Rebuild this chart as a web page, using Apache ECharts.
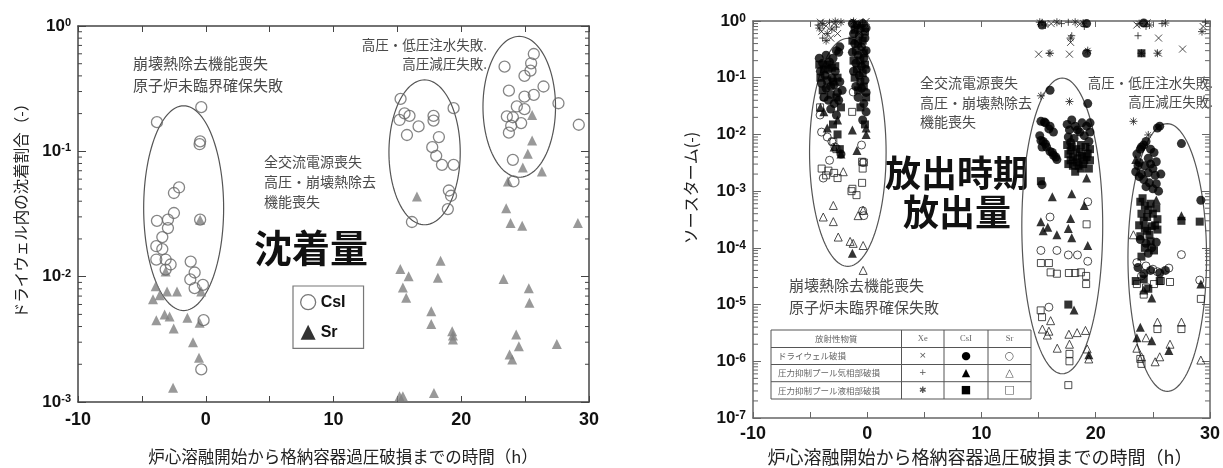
<!DOCTYPE html>
<html>
<head>
<meta charset="utf-8">
<script src="https://cdn.jsdelivr.net/npm/echarts@6/dist/echarts.min.js"></script>
<style>
html, body { margin: 0; background: #fff; }
#main { width: 1223px; height: 468px; }
</style>
</head>
<body>
<div id="main"></div>
<script>
// 左図: ドライウェル内の沈着割合 [時間(h), 割合]
var csiDep = [
    [-3.82, 0.171], [-0.35, 0.225], [-0.44, 0.12], [-0.48, 0.114], [-2.09, 0.0515], [-2.49, 0.0465],
    [-2.49, 0.0322], [-3.82, 0.0279], [-2.96, 0.0285], [-0.44, 0.0285], [-2.96, 0.0244], [-3.4, 0.0207],
    [-3.87, 0.0175], [-3.4, 0.0166], [-3.87, 0.0137], [-3.14, 0.0137], [-2.75, 0.0125], [-3.14, 0.0114],
    [-1.18, 0.0132], [-1.21, 0.0095], [-0.87, 0.0108], [-0.87, 0.0081], [-0.22, 0.0086], [-0.17, 0.0045],
    [-0.35, 0.00182],
    [15.25, 0.262], [15.17, 0.178], [15.56, 0.201], [15.95, 0.192], [16.66, 0.158], [15.75, 0.135],
    [17.83, 0.192], [17.83, 0.176], [19.4, 0.221], [18.25, 0.13], [17.73, 0.108], [18.04, 0.092],
    [18.49, 0.078], [19.4, 0.078], [19.03, 0.0487], [19.2, 0.0442], [18.95, 0.0346], [16.14, 0.0273],
    [23.39, 0.474], [25.68, 0.598], [25.47, 0.504], [25.42, 0.44], [24.95, 0.40], [26.44, 0.329],
    [23.73, 0.305], [25.68, 0.282], [24.95, 0.273], [27.61, 0.242], [24.35, 0.228], [24.95, 0.217],
    [23.57, 0.19], [24.04, 0.187], [24.69, 0.168], [23.91, 0.16], [23.73, 0.141], [29.2, 0.163],
    [24.04, 0.0855], [24.09, 0.0575]
];
var srDep = [
    [-3.92, 0.0084], [-4.13, 0.0066], [-3.61, 0.0071], [-3.03, 0.0076], [-2.25, 0.0076], [-3.87, 0.0045],
    [-3.22, 0.005], [-2.83, 0.0048], [-2.51, 0.00385], [-1.44, 0.0047], [-1.0, 0.003], [-0.53, 0.00225],
    [-0.48, 0.00428], [-0.35, 0.0076], [-2.56, 0.0013], [-3.14, 0.011], [-0.44, 0.0285],
    [15.23, 0.0115], [15.88, 0.0101], [15.43, 0.0082], [15.69, 0.0068], [18.38, 0.0134], [18.17, 0.0098],
    [17.65, 0.0053], [17.65, 0.0042], [19.29, 0.00367], [19.35, 0.00339], [19.35, 0.00315], [15.17, 0.00111],
    [15.43, 0.00111], [17.86, 0.00118], [16.53, 0.0437],
    [25.55, 0.195], [25.55, 0.122], [25.21, 0.0955], [24.82, 0.0743], [26.31, 0.069], [23.65, 0.0575],
    [23.52, 0.0352], [23.86, 0.0268], [24.77, 0.0255], [29.13, 0.0268], [23.31, 0.0096], [25.29, 0.0081],
    [25.34, 0.0062], [24.3, 0.00345], [24.51, 0.00279], [23.78, 0.00239], [23.99, 0.00218], [27.48, 0.0029]
];
// 楕円 [中心x, 中心y, x半径(h), y半径(桁)]
var depEllipses = [[-1.73, 0.0352, 3.13, 0.817], [17.13, 0.0982, 2.79, 0.578], [24.54, 0.2265, 2.84, 0.562]];

// 右図: ソースターム [時間(h), 値]
var xeDw = [
    [-4.1, 0.95], [-3.6, 0.82], [-2.9, 0.9], [-2.6, 0.6], [-1.0, 0.92], [-0.3, 0.7], [-0.1, 0.98],
    [-4.0, 0.65], [-3.2, 0.5], [-0.7, 0.6],
    [15.0, 0.26], [16.1, 0.9], [17.7, 0.26], [17.8, 0.42], [18.6, 0.88], [23.6, 0.85], [24.5, 0.93],
    [25.5, 0.5], [25.5, 0.27], [27.6, 0.32], [29.4, 0.8]
];
var xeGas = [
    [-4.3, 0.85], [-3.3, 0.95], [-2.7, 0.78], [-0.8, 0.85], [-0.4, 0.95], [-3.9, 0.5], [15.3, 0.95],
    [17.0, 0.9], [17.9, 0.55], [19.0, 0.8], [15.9, 0.27], [17.6, 0.95], [24.4, 0.8], [25.8, 0.9],
    [23.7, 0.55], [29.6, 0.95]
];
var xeLiq = [
    [-3.9, 0.9], [-3.1, 0.72], [-2.3, 0.95], [-1.2, 0.98], [-0.6, 0.8], [-3.5, 0.6], [-4.2, 0.75],
    [-2.8, 0.98], [-3.6, 0.45], [-1.1, 0.75],
    [15.1, 0.95], [15.6, 0.85], [16.0, 0.27], [17.8, 0.5], [18.9, 0.92], [19.3, 0.3],
    [15.2, 0.048], [17.7, 0.038], [23.3, 0.017], [24.0, 0.27], [25.4, 0.27], [23.8, 0.9], [24.7, 0.85],
    [26.1, 0.92], [29.3, 0.65], [24.6, 0.0098], [16.6, 0.95], [18.2, 0.95]
];
var csiDw = [
    [-4.2, 0.22], [-3.9, 0.18], [-3.6, 0.25], [-3.3, 0.19], [-3.0, 0.22], [-2.7, 0.3], [-2.4, 0.35],
    [-2.5, 0.28], [-4.1, 0.13], [-3.7, 0.11], [-3.4, 0.14], [-3.1, 0.1], [-2.8, 0.13], [-2.4, 0.085],
    [-4.0, 0.08], [-3.6, 0.065], [-3.2, 0.07], [-2.9, 0.075], [-2.6, 0.055], [-2.2, 0.06], [-3.8, 0.045],
    [-3.4, 0.04], [-2.9, 0.035], [-2.5, 0.04], [-3.2, 0.028], [-2.7, 0.022], [-2.3, 0.0045],
    [-1.3, 0.9], [-0.9, 0.85], [-0.4, 0.9], [-0.1, 0.75], [-1.2, 0.6], [-0.7, 0.55], [-0.2, 0.5],
    [-1.1, 0.4], [-0.5, 0.35], [-0.1, 0.3], [-1.3, 0.28], [-0.8, 0.25], [-0.3, 0.22], [-1.0, 0.18],
    [-0.5, 0.16], [-0.1, 0.14], [-1.2, 0.13], [-0.7, 0.11], [-0.2, 0.09], [-1.0, 0.07], [-0.5, 0.065],
    [-0.1, 0.055], [-0.8, 0.045], [-0.3, 0.035], [-0.1, 0.025], [-0.4, 0.018],
    [15.2, 0.017], [15.6, 0.016], [16.0, 0.014], [16.3, 0.011], [15.1, 0.0095], [15.4, 0.0075],
    [15.7, 0.006], [16.0, 0.005], [16.3, 0.0043], [16.6, 0.0036], [15.3, 0.006], [17.5, 0.015],
    [17.9, 0.018], [18.4, 0.012], [18.8, 0.016], [19.2, 0.014], [19.5, 0.011], [17.6, 0.009],
    [18.1, 0.0085], [19.4, 0.0075], [16.0, 0.06], [19.3, 0.035], [19.2, 0.27], [15.3, 0.0013],
    [15.5, 0.0165], [15.9, 0.0125], [15.2, 0.0078], [15.6, 0.0068], [16.2, 0.0048], [16.5, 0.004],
    [17.7, 0.012], [18.2, 0.014], [18.6, 0.011], [19.0, 0.0095], [17.8, 0.0072], [19.5, 0.016],
    [19.2, 0.9], [15.3, 0.85],
    [25.4, 0.013], [25.6, 0.014], [27.5, 0.0069], [24.0, 0.006], [24.4, 0.0075], [24.8, 0.0055],
    [23.6, 0.0045], [25.1, 0.0048], [23.8, 0.0032], [24.3, 0.0028], [24.8, 0.003], [25.3, 0.0033],
    [23.5, 0.0022], [24.0, 0.002], [24.6, 0.0021], [25.2, 0.0019], [25.7, 0.002], [24.4, 0.0012],
    [25.0, 0.0011], [25.5, 0.001], [29.2, 0.00069], [23.9, 0.00014], [24.4, 0.00012], [24.9, 0.0001],
    [25.3, 0.000125], [24.6, 0.00008], [23.7, 0.000045], [24.2, 0.000035], [24.8, 0.00004],
    [25.6, 0.000036], [26.1, 0.00004], [24.2, 0.92],
    [24.2, 0.0065], [23.9, 0.0055], [24.6, 0.0038], [23.7, 0.0028], [25.0, 0.0025], [24.2, 0.0016],
    [24.7, 0.0014], [23.8, 0.0018], [25.3, 0.00135]
];
var csiGas = [
    [-3.5, 0.013], [-2.6, 0.018], [-4.1, 0.03], [-2.3, 0.0045], [-0.9, 0.0052], [-0.1, 0.01],
    [-0.1, 0.013], [-1.3, 0.012], [-1.3, 0.00008], [-2.9, 0.006], [-3.8, 0.025],
    [16.2, 0.0008], [17.9, 0.0009], [19.2, 0.0017], [15.2, 0.00029], [15.8, 0.00023], [16.6, 0.00017],
    [17.8, 0.00033], [17.6, 0.00022], [17.9, 0.00015], [19.3, 0.00011], [19.0, 0.00056], [15.4, 0.0002],
    [18.1, 0.000008], [19.4, 0.0000013],
    [27.5, 0.00037], [24.9, 0.000013], [23.9, 0.000004], [23.6, 0.0000026], [24.9, 0.0000023],
    [26.4, 0.00000155], [29.2, 0.000023], [25.3, 0.0007], [23.5, 0.0036], [24.2, 0.000018]
];
var csiLiq = [
    [-4.2, 0.17], [-3.8, 0.14], [-3.5, 0.17], [-3.1, 0.15], [-2.8, 0.16], [-4.1, 0.1], [-3.5, 0.09],
    [-3.0, 0.085], [-2.6, 0.1], [-3.9, 0.06], [-3.2, 0.05], [-2.7, 0.045], [-2.3, 0.03], [-3.0, 0.015],
    [-2.6, 0.01], [-2.4, 0.0055],
    [-1.1, 0.7], [-0.6, 0.75], [-0.2, 0.65], [-1.3, 0.45], [-0.8, 0.4], [-0.4, 0.45], [-1.0, 0.3],
    [-0.3, 0.27], [-1.2, 0.2], [-0.6, 0.2], [-0.2, 0.17], [-0.9, 0.14], [-0.4, 0.12], [-1.1, 0.1],
    [-0.6, 0.085], [-0.3, 0.07], [-0.8, 0.06], [-0.1, 0.045], [-0.6, 0.03], [-0.2, 0.015],
    [17.5, 0.0065], [17.9, 0.006], [18.3, 0.0055], [18.7, 0.0065], [19.1, 0.006], [19.5, 0.0055],
    [17.6, 0.0045], [18.0, 0.004], [18.4, 0.0038], [18.8, 0.0042], [19.2, 0.004], [19.5, 0.0035],
    [17.6, 0.003], [18.0, 0.0028], [18.5, 0.0028], [18.9, 0.003], [19.4, 0.0025], [18.2, 0.0022],
    [17.8, 0.0052], [18.6, 0.0048], [19.0, 0.0035], [17.8, 0.0035], [18.3, 0.0032], [19.3, 0.0046],
    [18.7, 0.0025], [15.2, 0.0015], [17.6, 0.00001],
    [23.9, 0.00065], [24.3, 0.00055], [24.8, 0.0006], [25.3, 0.0005], [24.0, 0.0004], [24.5, 0.00035],
    [25.0, 0.0004], [25.4, 0.00032], [23.8, 0.00025], [24.3, 0.00022], [24.9, 0.00024], [25.4, 0.00021],
    [24.7, 0.00017], [27.5, 0.0003], [29.1, 0.00029], [24.0, 0.27], [25.6, 0.000026], [24.2, 0.000028],
    [23.5, 0.000026], [24.6, 0.000019],
    [24.1, 0.00075], [24.6, 0.00047], [24.2, 0.0003], [25.2, 0.00025], [24.5, 0.0002], [23.9, 0.00016],
    [24.3, 0.0001], [24.8, 0.00013], [25.1, 0.00009], [24.0, 0.00007]
];
var srDw = [
    [-1.23, 0.056], [-4.0, 0.011], [-3.5, 0.009], [-3.1, 0.0075], [-2.83, 0.006], [-0.5, 0.0065],
    [-0.36, 0.0032], [-3.85, 0.0017], [-4.13, 0.022], [-3.3, 0.0035], [-0.4, 0.00045], [-0.3, 0.00037],
    [16.0, 0.00035], [19.3, 0.00065], [15.2, 0.00009], [16.6, 0.00009], [17.6, 0.000075],
    [18.4, 0.000075], [19.3, 0.000058], [15.9, 0.000009],
    [27.5, 0.000076], [26.4, 0.000044], [29.1, 0.000027], [23.6, 0.000055], [24.4, 0.000048],
    [25.0, 0.000042], [24.0, 0.000032], [25.4, 0.000038]
];
var srGas = [
    [-2.1, 0.0022], [-2.97, 0.00056], [-3.85, 0.00035], [-2.97, 0.00029], [-0.36, 0.00046], [-0.8, 0.00037],
    [-2.54, 0.000155], [-1.23, 0.00012], [-0.36, 0.00011], [-0.36, 0.00004], [-1.5, 0.00013],
    [16.05, 0.0000052], [15.33, 0.0000037], [15.9, 0.0000034], [15.76, 0.0000029], [17.65, 0.000003],
    [18.37, 0.0000032], [19.1, 0.0000035], [16.63, 0.0000017], [17.7, 0.000002], [19.25, 0.00000165],
    [19.39, 0.0000011],
    [23.3, 0.00017], [25.4, 0.0000049], [27.5, 0.0000049], [24.4, 0.0000026], [23.6, 0.0000017],
    [24.0, 0.0000012], [25.2, 0.00000098], [25.6, 0.0000012], [29.2, 0.00000105], [26.5, 0.000002]
];
var srLiq = [
    [-3.76, 0.046], [-4.13, 0.03], [-1.32, 0.025], [-2.97, 0.0074], [-2.7, 0.0055], [-0.45, 0.0033],
    [-0.4, 0.0025], [-0.45, 0.0014], [-3.99, 0.0025], [-3.4, 0.0023], [-2.9, 0.0021], [-3.6, 0.0019],
    [-2.6, 0.0017], [-1.38, 0.001], [-0.94, 0.00085], [-1.3, 0.0011], [-0.3, 0.0032],
    [15.2, 0.000054], [15.9, 0.000054], [16.05, 0.000037], [16.6, 0.000035], [17.65, 0.000036],
    [18.2, 0.000036], [18.7, 0.000037], [19.16, 0.000032], [19.16, 0.000023], [15.18, 0.0000079],
    [15.3, 0.000006], [17.7, 0.00000135], [17.7, 0.000001], [17.6, 0.00000038], [19.2, 0.00026],
    [26.5, 0.000025], [29.2, 0.0000126], [25.4, 0.0000037], [27.5, 0.0000037], [24.0, 0.0000009],
    [23.6, 0.000023], [24.4, 0.00002], [25.1, 0.000023], [24.2, 0.000015], [25.7, 0.000026], [23.9, 0.0000011]
];
var relEllipses = [[-1.7, 0.00483, 3.35, 2.01], [17.07, 0.000244, 3.54, 2.607], [26.26, 0.0000676, 3.44, 2.36]];

var tableHead = ['放射性物質', 'Xe', 'CsI', 'Sr'];
var tableRows = ['ドライウェル破損', '圧力抑制プール気相部破損', '圧力抑制プール液相部破損'];
var tableMarks = [['×', '●', '○'], ['+', '▲', '△'], ['✱', '■', '□']];

var cjk = '"Noto Sans CJK JP", sans-serif';
var num = '"Liberation Sans", Arial, sans-serif';

var chart = echarts.init(document.getElementById('main'));

function minorTicks(lo, hi) {
    var out = [];
    for (var e = lo; e < hi; e++) {
        for (var m = 2; m <= 9; m++) out.push([-10, m * Math.pow(10, e)]);
    }
    return out;
}

function tickItem(len, color) {
    return function(params, api) {
        var l = api.coord([-10, api.value(1)]);
        var r = api.coord([30, api.value(1)]);
        return {
            type: 'group', children: [
                { type: 'line', shape: { x1: l[0], y1: l[1], x2: l[0] + len, y2: l[1] }, style: { stroke: color, lineWidth: 1 } },
                { type: 'line', shape: { x1: r[0], y1: r[1], x2: r[0] - len, y2: r[1] }, style: { stroke: color, lineWidth: 1 } }
            ]
        };
    };
}

function ellipseItem(params, api) {
    var c = api.coord([api.value(0), api.value(1)]);
    var px = api.coord([api.value(0) + api.value(2), api.value(1)]);
    var py = api.coord([api.value(0), api.value(1) * Math.pow(10, api.value(3))]);
    var rx = px[0] - c[0], ry = c[1] - py[1];
    var pts = [];
    for (var i = 0; i < 120; i++) {
        var a = i / 120 * Math.PI * 2;
        pts.push([c[0] + rx * Math.cos(a), c[1] + ry * Math.sin(a)]);
    }
    return { type: 'polygon', shape: { points: pts }, style: { fill: 'none', stroke: '#555', lineWidth: 1.2 } };
}

function expLabel(v) {
    return '{b|10}{s|' + Math.round(Math.log10(v)) + '}';
}

function xAxisOf(grid, pos, margin, color) {
    return {
        gridIndex: grid, type: 'value', min: -10, max: 30, interval: 5, position: pos,
        axisLine: { onZero: false, lineStyle: { color: color, width: 1.5 } },
        axisTick: { inside: true, length: 6, lineStyle: { color: color } },
        splitLine: { show: false },
        axisLabel: {
            show: pos === 'bottom', margin: margin, fontSize: 18, fontWeight: 'bold', color: '#111', fontFamily: num,
            formatter: function(v) { return v % 10 === 0 ? String(v) : ''; }
        }
    };
}

function yAxisOf(grid, pos, min, color, sup) {
    return {
        gridIndex: grid, type: 'log', logBase: 10, min: min, max: 1, position: pos,
        splitNumber: Math.round(-Math.log10(min)),
        axisLine: { onZero: false, lineStyle: { color: color, width: 1.5 } },
        axisTick: { inside: true, length: 8, lineStyle: { color: color } },
        splitLine: { show: false },
        axisLabel: {
            show: pos === 'left', margin: 7, formatter: expLabel,
            rich: {
                b: { fontSize: 17, fontWeight: 'bold', color: '#111', fontFamily: num },
                s: { fontSize: sup, fontWeight: 'bold', color: '#111', fontFamily: num, verticalAlign: 'top' }
            }
        }
    };
}

var xeLine = { color: 'rgba(0,0,0,0)', borderColor: '#222', borderWidth: 1 };
var openLine = { color: 'rgba(0,0,0,0)', borderColor: '#222', borderWidth: 1 };

function rightSeries(name, data, symbol, size, style) {
    return { type: 'scatter', name: name, xAxisIndex: 2, yAxisIndex: 2, data: data, symbol: symbol, symbolSize: size, itemStyle: style, silent: true };
}

// 右図の表
var colX = [771, 901.5, 944, 988, 1031];
var rowY = [330, 347.5, 364.5, 381.7, 399];
var tableEls = [{ type: 'rect', shape: { x: colX[0], y: rowY[0], width: colX[4] - colX[0], height: rowY[4] - rowY[0] }, style: { fill: '#fff', stroke: '#555', lineWidth: 1 } }];
colX.slice(1, 4).forEach(function(x) {
    tableEls.push({ type: 'line', shape: { x1: x, y1: rowY[0], x2: x, y2: rowY[4] }, style: { stroke: '#555', lineWidth: 1 } });
});
rowY.slice(1, 4).forEach(function(y) {
    tableEls.push({ type: 'line', shape: { x1: colX[0], y1: y, x2: colX[4], y2: y }, style: { stroke: '#555', lineWidth: 1 } });
});
tableHead.forEach(function(t, i) {
    tableEls.push({ type: 'text', x: (colX[i] + colX[i + 1]) / 2, y: (rowY[0] + rowY[1]) / 2,
        style: { text: t, fontSize: 8.5, fill: '#666', fontFamily: i ? '"Liberation Serif", serif' : cjk, align: 'center', verticalAlign: 'middle' } });
});
tableRows.forEach(function(t, r) {
    var cy = (rowY[r + 1] + rowY[r + 2]) / 2;
    tableEls.push({ type: 'text', x: colX[0] + 7, y: cy, style: { text: t, fontSize: 8.5, fill: '#666', fontFamily: cjk, verticalAlign: 'middle' } });
    tableMarks[r].forEach(function(m, c) {
        tableEls.push({ type: 'text', x: (colX[c + 1] + colX[c + 2]) / 2, y: cy,
            style: { text: m, fontSize: c === 0 ? 9 : 11, fill: c === 1 ? '#000' : '#555', fontFamily: '"DejaVu Sans", sans-serif', align: 'center', verticalAlign: 'middle' } });
    });
});

function note(x, y, text, size, lh, align) {
    return { type: 'text', x: x, y: y, style: { text: text, fontSize: size, lineHeight: lh, fill: '#4a4a4a', fontFamily: cjk, align: align || 'left', verticalAlign: 'top' } };
}

var option = {
    animation: false,
    backgroundColor: '#fff',
    grid: [
        { left: 78, top: 26, width: 511, height: 376 },
        { left: 753, top: 21, width: 459, height: 397 }
    ],
    xAxis: [
        xAxisOf(0, 'bottom', 9, '#444'), xAxisOf(0, 'top', 9, '#444'),
        xAxisOf(1, 'bottom', 7, '#666'), xAxisOf(1, 'top', 7, '#666')
    ],
    yAxis: [
        yAxisOf(0, 'left', 0.001, '#444', 11), yAxisOf(0, 'right', 0.001, '#444', 11),
        yAxisOf(1, 'left', 1e-7, '#666', 12), yAxisOf(1, 'right', 1e-7, '#666', 12)
    ],
    legend: {
        data: [
            { name: 'CsI', icon: 'circle', itemStyle: { color: 'rgba(0,0,0,0)', borderColor: '#555', borderWidth: 1.3 } },
            { name: 'Sr', icon: 'triangle', itemStyle: { color: '#000' } }
        ],
        left: 293, top: 286, orient: 'vertical', itemGap: 14, itemWidth: 15, itemHeight: 15,
        padding: [8, 18, 8, 7], borderColor: '#777', borderWidth: 1.2, selectedMode: false,
        textStyle: { fontSize: 16, fontWeight: 'bold', color: '#111', fontFamily: num }
    },
    series: [
        { type: 'custom', xAxisIndex: 0, yAxisIndex: 0, data: minorTicks(-3, 0), renderItem: tickItem(4, '#444'), silent: true },
        { type: 'custom', xAxisIndex: 2, yAxisIndex: 2, data: minorTicks(-7, 0), renderItem: tickItem(5, '#666'), silent: true },
        { type: 'custom', xAxisIndex: 0, yAxisIndex: 0, data: depEllipses, renderItem: ellipseItem, silent: true },
        { type: 'custom', xAxisIndex: 2, yAxisIndex: 2, data: relEllipses, renderItem: ellipseItem, silent: true },
        { type: 'scatter', name: 'Sr', xAxisIndex: 0, yAxisIndex: 0, data: srDep, symbol: 'triangle', symbolSize: 10,
          itemStyle: { color: '#7f7f7f' }, silent: true },
        { type: 'scatter', name: 'CsI', xAxisIndex: 0, yAxisIndex: 0, data: csiDep, symbol: 'circle', symbolSize: 11,
          itemStyle: { color: 'rgba(0,0,0,0)', borderColor: '#666', borderWidth: 1.3 }, silent: true },
        rightSeries('Xe ドライウェル破損', xeDw, 'path://M0 0L10 10M10 0L0 10', 7, xeLine),
        rightSeries('Xe 気相部破損', xeGas, 'path://M5 0L5 10M0 5L10 5', 7, xeLine),
        rightSeries('Xe 液相部破損', xeLiq, 'path://M5 0L5 10M0 5L10 5M1.5 1.5L8.5 8.5M8.5 1.5L1.5 8.5', 8, xeLine),
        rightSeries('Sr ドライウェル破損', srDw, 'circle', 8, openLine),
        rightSeries('Sr 気相部破損', srGas, 'triangle', 8, openLine),
        rightSeries('Sr 液相部破損', srLiq, 'rect', 7, openLine),
        rightSeries('CsI ドライウェル破損', csiDw, 'circle', 9, { color: '#000' }),
        rightSeries('CsI 気相部破損', csiGas, 'triangle', 9, { color: '#000' }),
        rightSeries('CsI 液相部破損', csiLiq, 'rect', 8, { color: '#000' })
    ],
    graphic: [
        note(133, 52, '崩壊熱除去機能喪失\n原子炉未臨界確保失敗', 15, 22),
        note(264, 152, '全交流電源喪失\n高圧・崩壊熱除去\n機能喪失', 14, 20),
        note(487, 35.5, '高圧・低圧注水失敗.\n高圧減圧失敗.', 13.5, 19, 'right'),
        { type: 'text', x: 311, y: 248, style: { text: '沈着量', fontSize: 38, fontWeight: 'bold', fill: '#111', fontFamily: cjk, align: 'center', verticalAlign: 'middle' } },
        note(920, 73, '全交流電源喪失\n高圧・崩壊熱除去\n機能喪失', 14, 19.5),
        note(1213, 73.5, '高圧・低圧注水失敗.\n高圧減圧失敗.', 13.5, 19, 'right'),
        note(789, 274, '崩壊熱除去機能喪失\n原子炉未臨界確保失敗', 15, 22),
        { type: 'text', x: 957, y: 153.5, style: { text: '放出時期\n放出量', fontSize: 36, lineHeight: 39, fontWeight: 'bold', fill: '#111', fontFamily: cjk, align: 'center', verticalAlign: 'top' } },
        { type: 'text', x: 343, y: 457, style: { text: '炉心溶融開始から格納容器過圧破損までの時間（h）', fontSize: 16.5, fill: '#222', fontFamily: cjk, align: 'center', verticalAlign: 'middle' } },
        { type: 'text', x: 980, y: 457, style: { text: '炉心溶融開始から格納容器過圧破損までの時間（h）', fontSize: 18, fill: '#222', fontFamily: cjk, align: 'center', verticalAlign: 'middle' } },
        { type: 'text', x: 21, y: 207, rotation: Math.PI / 2, style: { text: 'ドライウェル内の沈着割合（-）', fontSize: 15.5, fill: '#222', fontFamily: cjk, align: 'center', verticalAlign: 'middle' } },
        { type: 'text', x: 691, y: 188, rotation: Math.PI / 2, style: { text: 'ソースターム(-)', fontSize: 16, fill: '#222', fontFamily: cjk, align: 'center', verticalAlign: 'middle' } },
        { type: 'group', children: tableEls }
    ]
};

chart.setOption(option);
</script>
</body>
</html>
